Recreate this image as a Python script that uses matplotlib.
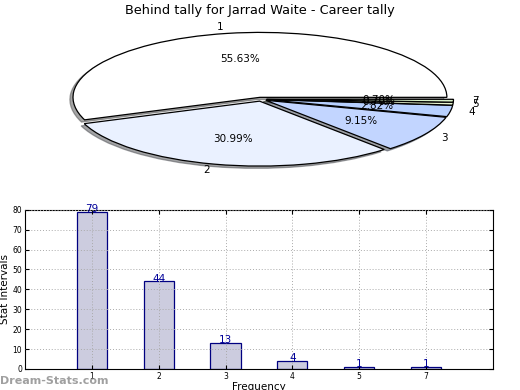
import matplotlib
matplotlib.use("Agg")
import matplotlib.pyplot as plt
import numpy as np

TITLE = "Behind tally for Jarrad Waite - Career tally"
categories = ["1", "2", "3", "4", "5", "7"]
counts = [79, 44, 13, 4, 1, 1]

PIE_COLORS = ["#ffffff", "#eaf1ff", "#c2d5ff", "#b7d0ff", "#e8f5d0", "#d8f0c8"]
BAR_FACE = "#ccccdf"
BAR_EDGE = "#000080"

fig = plt.figure(figsize=(5.2, 3.9), dpi=100)

# pie: stretched ellipse, no equal aspect
ax_pie = fig.add_axes([0.1423, 0.579, 0.719, 0.333])
wedges, texts, autotexts = ax_pie.pie(
    counts, labels=categories, colors=PIE_COLORS, explode=[0.03] * len(counts),
    autopct="%.2f%%", shadow={"ox": -0.012, "oy": -0.025}, startangle=0,
    wedgeprops={"edgecolor": "black", "linewidth": 0.9},
    textprops={"fontsize": 7.5})
ax_pie.set_aspect("auto")
ax_pie.set_xlim(-1, 1)
ax_pie.set_ylim(-1, 1)
ax_pie.axis("off")
fig.text(0.5, 0.973, TITLE, ha="center", va="center", fontsize=9.3)

# bar chart
ax = fig.add_axes([0.048, 0.054, 0.9, 0.408])
x = np.arange(len(categories))
bars = ax.bar(x, counts, width=0.45, color=BAR_FACE, edgecolor=BAR_EDGE, linewidth=0.9)
for bar, val in zip(bars, counts):
    ax.text(bar.get_x() + bar.get_width() / 2, bar.get_height() - 1.2, str(val),
            ha="center", va="bottom", fontsize=7.5, color="#000099")
ax.set_xlim(-1, len(categories))
ax.set_ylim(0, 80)
ax.set_yticks(np.arange(0, 81, 10))
ax.set_xticks(x)
ax.set_xticklabels(categories)
ax.tick_params(labelsize=5.5, direction="in", length=3, top=True, right=True, pad=2)
ax.grid(True, linestyle=(0, (1, 2)), color="#aaaaaa", linewidth=0.7)
ax.set_axisbelow(False)
ax.set_ylabel("Stat Intervals", fontsize=7.5, labelpad=2)
ax.set_xlabel("Frequency", fontsize=7.5, labelpad=1)

fig.text(0.0, 0.024, "Dream-Stats.com", fontsize=8, fontweight="bold",
         color="#888888", alpha=0.8, ha="left", va="center")

fig.savefig("out.png", dpi=100)
